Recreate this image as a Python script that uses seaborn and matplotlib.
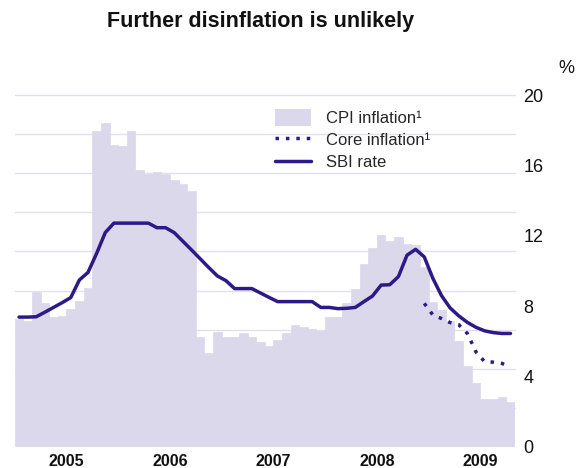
import numpy as np
import pandas as pd
import matplotlib
matplotlib.use("Agg")
import matplotlib.pyplot as plt
import seaborn as sns
from matplotlib.patches import Patch
from matplotlib.lines import Line2D

# monthly values, Jan 2005 .. Oct 2009
cpi = [7.25, 7.15, 8.83, 8.16, 7.40, 7.42, 7.82, 8.31, 9.01, 17.97, 18.39, 17.15,
       17.10, 17.97, 15.74, 15.49, 15.60, 15.50, 15.17, 14.92, 14.56, 6.27, 5.32, 6.55,
       6.27, 6.27, 6.46, 6.27, 5.95, 5.76, 6.08, 6.46, 6.91, 6.84, 6.70, 6.61,
       7.39, 7.39, 8.16, 8.96, 10.40, 11.29, 12.05, 11.72, 11.95, 11.53, 11.46, 10.24,
       8.26, 7.77, 7.15, 6.02, 4.60, 3.62, 2.71, 2.75, 2.82, 2.57]
sbi = [7.38, 7.38, 7.40, 7.66, 7.93, 8.20, 8.49, 9.49, 9.92, 11.00, 12.18, 12.72,
       12.72, 12.72, 12.72, 12.72, 12.46, 12.46, 12.18, 11.69, 11.20, 10.70, 10.20, 9.72,
       9.45, 9.00, 9.00, 9.00, 8.75, 8.50, 8.26, 8.26, 8.26, 8.26, 8.26, 7.93,
       7.93, 7.86, 7.88, 7.93, 8.26, 8.58, 9.20, 9.22, 9.68, 10.90, 11.23, 10.80,
       9.58, 8.60, 7.90, 7.45, 7.08, 6.80, 6.60, 6.50, 6.45, 6.45]
# core inflation only from Dec 2008
core = [8.16, 7.50, 7.30, 7.07, 6.95, 6.45, 5.40, 4.85, 4.82, 4.75, 4.55]
core_start = "2008-12"

years = [2005, 2006, 2007, 2008, 2009]
y_ticks = [0, 4, 8, 12, 16, 20]

months = pd.date_range("2005-01", periods=len(cpi), freq="MS")
df = pd.DataFrame({"date": months, "cpi": cpi, "sbi": sbi})
df["m"] = np.arange(len(df))
core_df = df[df["date"] >= core_start].iloc[:len(core)].copy()
core_df["core"] = core

bar_col = "#dcd8ec"
line_col = "#2e1a86"
grid_col = "#e2dfef"

sns.set_theme(style="white")
plt.rcParams["font.family"] = ["Liberation Sans", "DejaVu Sans"]

fig = plt.figure(figsize=(5.84, 4.68), dpi=100)
ax = fig.add_axes([0.0252, 0.0449, 0.8563, 0.7521])

# gridlines sit on a finer, unlabelled scale (9 steps), behind the bars
for g in np.linspace(0, 20, 10)[1:]:
    ax.axhline(g, color=grid_col, linewidth=1.0, zorder=0, clip_on=False)

sns.barplot(data=df, x="m", y="cpi", native_scale=True, width=1, color=bar_col,
            edgecolor=bar_col, linewidth=0.5, saturation=1, errorbar=None, ax=ax, zorder=2)
sns.lineplot(data=df, x="m", y="sbi", color=line_col, linewidth=2.5, ax=ax, zorder=4)
sns.lineplot(data=core_df, x="m", y="core", color=line_col, linewidth=2.5,
             linestyle=(0, (1, 2)), ax=ax, zorder=4)

ax.set_xlim(-0.5, len(df) - 0.5)
ax.set_ylim(0, 20)
ax.set_xlabel("")
ax.set_ylabel("")
ax.grid(False)

ax.yaxis.tick_right()
ax.set_yticks(y_ticks)
ax.set_yticklabels([str(t) for t in y_ticks])
ax.tick_params(axis="y", length=0, pad=6, labelsize=13, colors="#111111")

ax.set_xticks([(y - 2005) * 12 + 5.5 for y in years])
ax.set_xticklabels([str(y) for y in years], fontweight="bold")
ax.tick_params(axis="x", length=0, pad=5, labelsize=11.5, colors="#111111")

for s in ax.spines.values():
    s.set_visible(False)

handles = [Patch(facecolor=bar_col, edgecolor="none"),
           Line2D([], [], color=line_col, lw=2.5, ls=(0, (1, 2))),
           Line2D([], [], color=line_col, lw=2.5)]
labels = ["CPI inflation\u00b9", "Core inflation\u00b9", "SBI rate"]
ax.legend(handles, labels, loc="upper left", bbox_to_anchor=(0.52, 0.96),
          frameon=False, fontsize=12, handlelength=2.15, handleheight=1.15,
          handletextpad=0.9, labelspacing=0.32, borderpad=0, borderaxespad=0)

fig.text(0.447, 1 - 22 / 468, "Further disinflation is unlikely", ha="center",
         va="center", fontsize=15.5, fontweight="bold", color="#111111")
fig.text(566 / 584, 1 - 68.5 / 468, "%", ha="center", va="center", fontsize=13,
         color="#111111")

fig.savefig("out.png", dpi=100)
